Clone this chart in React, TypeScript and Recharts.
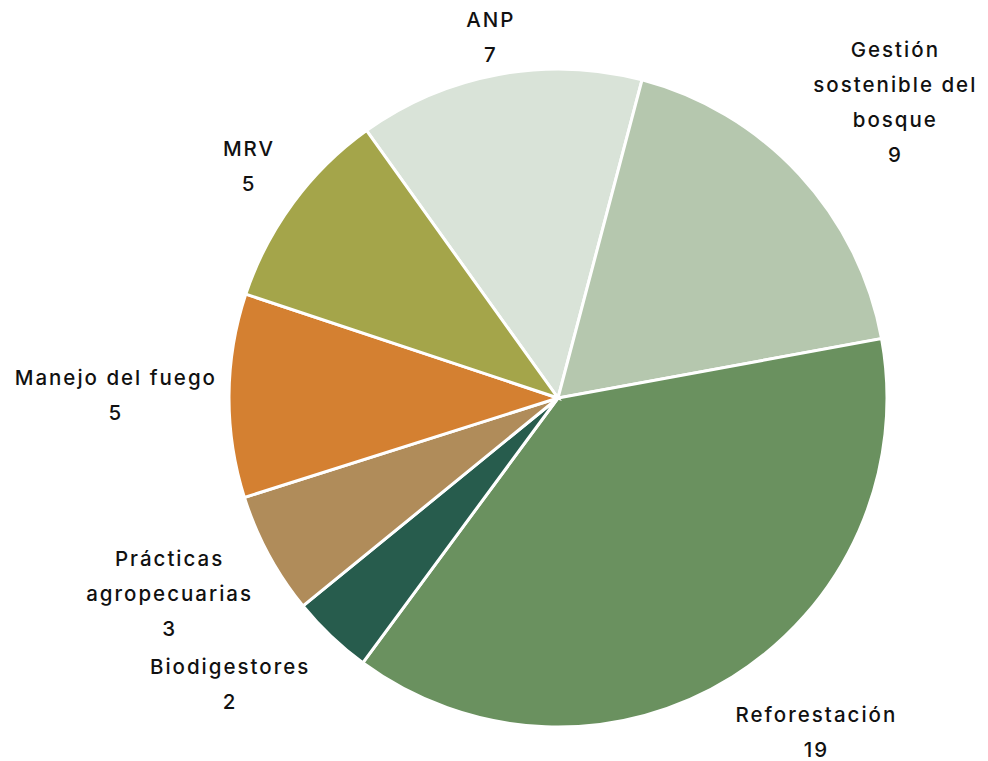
import React from 'react';
import { PieChart, Pie, Cell } from 'recharts';

const categories = [
  'ANP',
  'Gestión\nsostenible del\nbosque',
  'Reforestación',
  'Biodigestores',
  'Prácticas\nagropecuarias',
  'Manejo del fuego',
  'MRV',
];
const values = [7, 9, 19, 2, 3, 5, 5];
const colors = ['#d9e3d8', '#b5c7ae', '#6a915f', '#275c4d', '#b08c5a', '#d48031', '#a4a54a'];
// distance between the pie edge and each label block
const labelGap = [13, 19, 37, 33, 20, 14, 25];

const data = categories.map((c, i) => ({ name: c, value: values[i], gap: labelGap[i] }));

const FONT = 'Inter, "DejaVu Sans", sans-serif';
const FONT_SIZE = 20.5;
const WEIGHT = 500;
const SPACING = 2;
const LINE_H = 35;
const CAP = 14;

let ctx: CanvasRenderingContext2D | null = null;
const measure = (s: string) => {
  if (!ctx) ctx = document.createElement('canvas').getContext('2d');
  if (!ctx) return s.length * 12;
  ctx.font = `${WEIGHT} ${FONT_SIZE}px ${FONT}`;
  return ctx.measureText(s).width + (s.length - 1) * SPACING;
};

const clamp = (v: number) => Math.max(-1, Math.min(1, v));

const renderLabel = (props: any) => {
  const { cx, cy, midAngle, outerRadius, name, value, payload } = props;
  const gap = payload?.gap ?? 14;
  const rad = (Math.PI / 180) * midAngle;
  const cos = Math.cos(rad);
  const sin = Math.sin(rad);
  const lines = [...String(name).split('\n'), String(value)];
  const w = Math.max(...lines.map(measure));
  const h = (lines.length - 1) * LINE_H + CAP;
  const px = cx + (outerRadius + gap) * cos;
  const py = cy - (outerRadius + gap) * sin;
  const bx = px + clamp(cos * 1.5) * (w / 2);
  const by = py + clamp(-sin * 1.5) * (h / 2);
  const top = by - h / 2;
  return (
    <text
      x={bx}
      y={top}
      textAnchor="middle"
      fill="#111"
      style={{ fontFamily: FONT, fontSize: FONT_SIZE, fontWeight: WEIGHT, letterSpacing: SPACING }}
    >
      {lines.map((l, i) => (
        <tspan key={i} x={bx + SPACING / 2} y={top + CAP + LINE_H * i}>
          {l}
        </tspan>
      ))}
    </text>
  );
};

export default function App() {
  return (
    <div style={{ position: 'absolute', left: 0, top: 0, width: 988, height: 761, background: '#fff' }}>
      <PieChart width={988} height={761} margin={{ top: 0, right: 0, bottom: 0, left: 0 }}>
        <Pie
          data={data}
          dataKey="value"
          nameKey="name"
          cx={558}
          cy={398}
          outerRadius={329}
          startAngle={125.6}
          endAngle={-234.4}
          stroke="#fff"
          strokeWidth={3}
          label={renderLabel}
          labelLine={false}
          isAnimationActive={false}
        >
          {data.map((d, i) => (
            <Cell key={d.name} fill={colors[i]} />
          ))}
        </Pie>
      </PieChart>
    </div>
  );
}
